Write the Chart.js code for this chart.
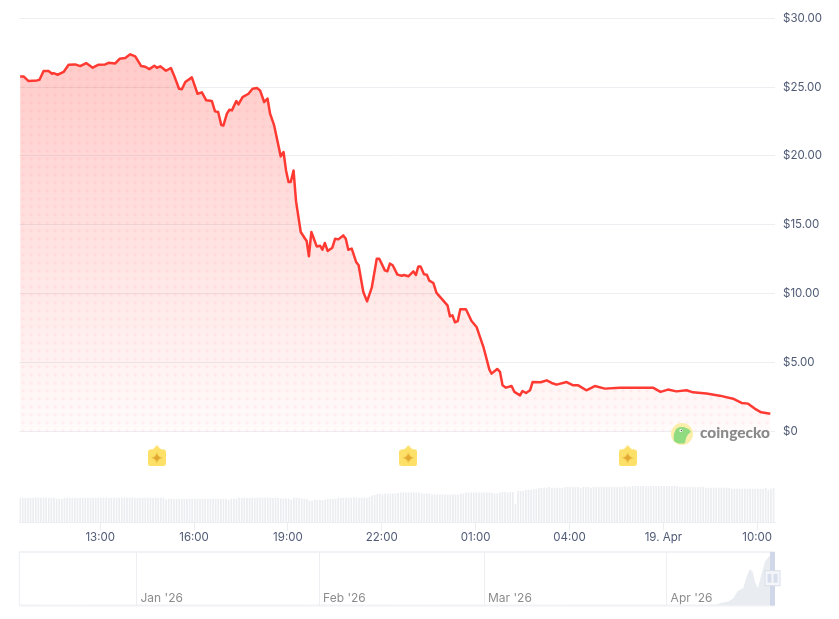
<!DOCTYPE html>
<html>
<head>
<meta charset="utf-8">
<title>Price chart</title>
<script src="https://cdn.jsdelivr.net/npm/chart.js@4"></script>
<style>
  html, body { margin: 0; padding: 0; background: #fff; }
  #wrap { position: relative; width: 839px; height: 619px; overflow: hidden; }
  canvas { position: absolute; left: 0; }
</style>
</head>
<body>
<div id="wrap">
  <canvas id="main" width="839" height="619" style="top:0"></canvas>
  <canvas id="nav" width="839" height="74" style="top:545px"></canvas>
</div>
<script>
// hours counted from 00:00 on 18 Apr
const priceHours = [
  10.44,10.55,10.71,10.98,11.06,11.19,11.35,11.46,11.51,11.64,11.83,11.99,12.20,12.36,12.55,12.76,12.95,13.16,13.27,13.48,
  13.62,13.80,13.96,14.12,14.31,14.44,14.57,14.73,14.81,14.92,15.10,15.26,15.36,15.52,15.61,15.72,15.93,16.11,16.25,16.39,
  16.57,16.67,16.77,16.87,16.94,17.05,17.13,17.21,17.35,17.42,17.55,17.74,17.87,18.01,18.11,18.24,18.35,18.43,18.56,18.77,
  18.86,18.94,19.02,19.09,19.18,19.26,19.41,19.55,19.60,19.67,19.75,19.92,20.03,20.10,20.18,20.27,20.42,20.51,20.61,20.77,
  20.85,20.93,21.04,21.18,21.26,21.41,21.53,21.68,21.84,21.92,22.10,22.18,22.26,22.35,22.50,22.64,22.71,22.85,23.01,23.09,
  23.17,23.24,23.35,23.44,23.52,23.65,23.75,24.10,24.18,24.26,24.34,24.43,24.51,24.69,24.87,25.03,25.25,25.44,25.51,25.69,
  25.78,25.86,25.97,26.15,26.24,26.42,26.50,26.61,26.74,26.82,27.08,27.27,27.43,27.59,27.91,28.12,28.28,28.54,28.81,29.13,
  29.61,30.04,30.67,30.91,31.15,31.42,31.74,31.95,32.38,32.80,33.23,33.50,33.71,33.92,34.13,34.42
];
const prices = [
  25.78,25.78,25.44,25.49,25.54,26.17,26.17,25.97,26.02,25.90,26.10,26.63,26.65,26.53,26.75,26.41,26.63,26.65,26.77,26.72,
  27.06,27.11,27.38,27.23,26.53,26.48,26.31,26.56,26.41,26.51,26.19,26.39,25.85,24.88,24.84,25.37,25.71,24.52,24.62,24.04,
  23.99,23.24,23.19,22.25,22.22,23.07,23.36,23.31,23.99,23.75,24.28,24.52,24.88,24.93,24.76,23.92,24.16,23.07,22.22,19.97,
  20.29,18.95,18.11,18.11,18.95,16.70,14.48,13.99,13.82,12.71,14.48,13.43,13.48,13.19,13.68,13.10,13.34,13.99,13.94,14.23,
  13.99,13.19,13.27,12.30,12.06,10.12,9.44,10.43,12.54,12.54,11.69,11.62,12.18,12.06,11.38,11.30,11.35,11.26,11.62,11.35,
  11.98,11.98,11.40,11.38,10.94,10.77,10.05,9.15,8.35,8.42,7.92,8.01,8.86,8.86,8.01,7.58,6.12,4.48,4.19,4.53,
  4.31,3.34,3.17,3.29,2.86,2.61,2.93,2.78,2.98,3.58,3.56,3.70,3.51,3.39,3.58,3.34,3.34,2.98,3.29,3.10,
  3.17,3.17,3.17,2.86,3.03,2.90,2.98,2.83,2.74,2.59,2.37,2.06,2.01,1.65,1.38,1.28
];

// one bar every 5 minutes
const volumeStartHour = 10.44;
const volumeStepHours = 1 / 12;
const volumes = [
  24.3,24.3,24.3,24.3,24.3,24.3,24.3,24.3,24.3,24.3,24.3,24.3,24.3,24.3,23.3,23.3,23.3,24.3,24.3,24.3,
  24.0,24.3,24.0,24.3,24.3,24.3,24.3,24.3,24.3,24.3,24.3,24.3,24.3,24.3,24.3,24.3,24.3,24.3,24.3,24.3,
  24.3,24.3,24.3,24.3,24.3,24.3,24.3,24.3,24.3,24.3,24.3,24.3,24.3,24.3,24.3,24.3,22.3,23.3,23.3,23.3,
  23.3,23.3,23.3,23.3,23.3,23.3,23.3,23.3,23.3,23.3,23.3,23.3,23.3,23.3,23.3,23.3,23.3,23.3,23.3,23.3,
  22.3,23.3,23.3,23.3,24.3,24.3,24.3,24.3,24.3,24.3,24.3,24.3,24.3,24.3,24.3,24.3,24.3,24.0,24.0,24.0,
  23.5,23.5,23.5,23.5,22.3,24.3,24.3,24.0,23.5,23.3,23.0,21.3,21.3,22.3,22.0,22.0,21.7,22.3,23.3,23.3,
  23.3,23.3,24.3,24.3,24.3,24.3,24.3,24.3,25.0,24.3,24.3,24.3,24.3,24.3,25.0,26.3,27.0,28.0,28.3,27.5,
  28.5,28.5,28.5,28.5,28.5,29.0,29.5,29.5,29.5,29.5,29.5,29.5,29.5,29.5,28.5,28.5,28.5,28.5,27.5,27.5,
  27.5,27.5,27.5,27.5,27.5,27.5,27.5,27.5,27.5,28.5,28.5,29.5,29.5,29.5,29.5,29.5,29.5,29.5,29.5,29.5,
  29.5,29.0,28.5,28.5,29.5,30.0,30.0,29.5,30.0,30.0,18.3,31.0,31.0,31.0,32.3,32.3,32.3,33.0,33.3,34.3,
  34.0,34.3,34.3,35.0,34.0,34.3,34.3,34.3,34.0,35.0,35.0,35.0,35.0,35.0,35.0,33.7,35.0,35.0,35.0,34.0,
  35.0,35.0,35.0,35.0,35.0,35.0,35.0,35.0,35.0,35.0,35.0,35.0,35.7,35.3,35.3,36.0,36.0,36.0,36.0,36.0,
  36.0,36.0,36.0,36.0,36.0,36.0,36.0,36.0,36.0,36.0,36.0,36.0,36.0,35.0,35.0,35.0,35.0,35.0,35.0,35.0,
  35.0,35.0,35.0,34.3,34.3,34.3,34.3,34.3,34.3,34.3,34.3,34.3,34.3,33.3,33.3,33.3,33.3,33.3,33.3,33.3,
  33.3,33.3,33.3,33.3,33.3,33.3,34.0,32.3,33.3,34.0
];

const hourTicks = [13, 16, 19, 22, 25, 28, 31, 34];
const hourLabels = ['13:00', '16:00', '19:00', '22:00', '01:00', '04:00', '19. Apr', '10:00'];
const priceTicks = [0, 5, 10, 15, 20, 25, 30];
const eventHours = [14.81, 22.85, 29.86];
const eventLevel = -1.78;

// overview strip: days counted from 1 Jan 2026
const monthDays = [0, 31, 59, 90];
const monthLabels = ["Jan '26", "Feb '26", "Mar '26", "Apr '26"];
const overviewDays = [-19.9, 0, 20, 40, 60, 75, 90, 95, 98.5, 99.3, 100.4, 101.3, 102.1, 103, 103.6, 104.1, 104.6, 105, 105.5, 106, 106.7, 107.4, 107.6, 108.4];
const overviewPrices = [0.2, 0.3, 0.3, 0.2, 0.3, 0.2, 0.2, 0.3, 0.4, 1.6, 2.2, 4.3, 9, 10.4, 17.5, 22, 20.6, 14.5, 10.4, 17.5, 26.7, 29.8, 30.2, 27];
const selectedDays = [107.55, 108.4];

const axisFont = { family: 'Inter', size: 11.5 };
const axisColor = '#4f5a75';
const gridColor = '#eceef2';

function eventPin() {
  const c = document.createElement('canvas');
  c.width = 18; c.height = 21;
  const g = c.getContext('2d');
  g.fillStyle = '#fde068';
  g.beginPath();
  g.moveTo(9, 0); g.lineTo(13, 4); g.lineTo(15, 4);
  g.quadraticCurveTo(18, 4, 18, 7); g.lineTo(18, 18);
  g.quadraticCurveTo(18, 21, 15, 21); g.lineTo(3, 21);
  g.quadraticCurveTo(0, 21, 0, 18); g.lineTo(0, 7);
  g.quadraticCurveTo(0, 4, 3, 4); g.lineTo(5, 4);
  g.closePath(); g.fill();
  g.fillStyle = '#e2a72f';
  g.beginPath();
  g.moveTo(9, 7); g.quadraticCurveTo(9.6, 12, 15, 12.5);
  g.quadraticCurveTo(9.6, 13, 9, 18); g.quadraticCurveTo(8.4, 13, 3, 12.5);
  g.quadraticCurveTo(8.4, 12, 9, 7);
  g.fill();
  return c;
}

function dotPattern(ctx) {
  const c = document.createElement('canvas');
  c.width = 8; c.height = 8;
  const g = c.getContext('2d');
  g.fillStyle = 'rgba(255,58,51,0.05)';
  [[7, 6.7], [-1, 6.7], [7, -1.3], [-1, -1.3]].forEach(p => {
    g.beginPath(); g.arc(p[0], p[1], 1.8, 0, Math.PI * 2); g.fill();
  });
  return ctx.createPattern(c, 'repeat');
}

const logoPlugin = {
  id: 'logo',
  afterDraw(chart) {
    const g = chart.ctx;
    g.save();
    g.fillStyle = '#fbeeaa';
    g.beginPath(); g.arc(682, 434, 11, 0, Math.PI * 2); g.fill();
    g.fillStyle = '#90da7f';
    g.beginPath();
    g.moveTo(674, 441);
    g.bezierCurveTo(673, 434, 675, 427, 681, 427);
    g.bezierCurveTo(685, 427, 690, 429, 691, 432);
    g.bezierCurveTo(688, 434, 686, 436, 685, 443);
    g.bezierCurveTo(682, 444, 677, 444, 674, 441);
    g.fill();
    g.fillStyle = '#fff';
    g.beginPath(); g.arc(681, 430.5, 1.6, 0, Math.PI * 2); g.fill();
    g.fillStyle = '#555';
    g.beginPath(); g.arc(681.4, 430.5, 0.8, 0, Math.PI * 2); g.fill();
    g.fillStyle = '#8a8a8a';
    g.font = '900 15.5px Lato';
    g.textBaseline = 'middle';
    g.fillText('coingecko', 700, 433);
    g.restore();
  }
};

new Chart(document.getElementById('main'), {
  type: 'bar',
  plugins: [logoPlugin],
  data: {
    datasets: [
      {
        type: 'line', order: 1, yAxisID: 'y',
        data: eventHours.map(h => ({ x: h, y: eventLevel })),
        showLine: false, pointStyle: eventPin(), pointRadius: 10
      },
      {
        type: 'line', order: 2, yAxisID: 'y',
        data: priceHours.map((h, i) => ({ x: h, y: prices[i] })),
        borderColor: '#ff3a33', borderWidth: 2.5, pointRadius: 0, tension: 0,
        borderJoinStyle: 'round',
        fill: 'origin',
        backgroundColor(context) {
          const { chart } = context;
          if (!chart.chartArea) return 'transparent';
          const y = chart.scales.y;
          const grad = chart.ctx.createLinearGradient(0, y.getPixelForValue(30), 0, y.getPixelForValue(0));
          grad.addColorStop(0, 'rgba(255,58,51,0.29)');
          grad.addColorStop(1, 'rgba(255,58,51,0.02)');
          return grad;
        }
      },
      {
        type: 'line', order: 3, yAxisID: 'y',
        data: priceHours.map((h, i) => ({ x: h, y: prices[i] })),
        borderWidth: 0, pointRadius: 0, fill: 'origin',
        backgroundColor: dotPattern(document.getElementById('main').getContext('2d'))
      },
      {
        type: 'bar', order: 4, yAxisID: 'vol',
        data: volumes.map((v, i) => ({ x: volumeStartHour + i * volumeStepHours, y: v })),
        backgroundColor: '#ebedf1', barThickness: 1
      }
    ]
  },
  options: {
    responsive: false,
    animation: false,
    layout: { padding: { left: 19.5, top: 18.3, right: 0, bottom: 0 } },
    plugins: { legend: { display: false }, tooltip: { enabled: false } },
    scales: {
      x: {
        type: 'linear', min: 10.42, max: 34.57, offset: false,
        afterBuildTicks(s) { s.ticks = hourTicks.map(value => ({ value })); },
        afterFit(s) { s.height = 96.7; },
        grid: { drawOnChartArea: false, color: gridColor, tickLength: 8, offset: false },
        border: { color: gridColor },
        ticks: {
          autoSkip: false, maxRotation: 0, padding: 0, font: axisFont, color: axisColor,
          callback: v => hourLabels[hourTicks.indexOf(v)]
        }
      },
      y: {
        position: 'right', min: -6.61, max: 30,
        afterBuildTicks(s) { s.ticks = priceTicks.map(value => ({ value })); },
        afterFit(s) { s.width = 64; },
        grid: { color: gridColor, drawTicks: false },
        border: { display: false },
        ticks: {
          padding: 8, font: axisFont, color: axisColor,
          callback: v => v === 0 ? '$0' : '$' + v.toFixed(2)
        }
      },
      vol: { display: false, min: 0, max: 504 }
    }
  }
});

const overviewPlugin = {
  id: 'overview',
  beforeDraw(chart) {
    const a = chart.chartArea, g = chart.ctx;
    g.save();
    g.fillStyle = '#f1f2f5';
    g.fillRect(a.left, a.top - 1, a.right - a.left, 2);
    g.fillRect(a.left, a.bottom - 1, a.right - a.left, 2);
    g.fillStyle = gridColor;
    g.fillRect(a.left - 0.5, a.top, 1, a.bottom - a.top);
    g.restore();
  },
  afterDraw(chart) {
    const a = chart.chartArea, g = chart.ctx, x = chart.scales.x;
    g.save();
    g.font = '12px Inter';
    g.fillStyle = '#8c8c8c';
    g.textBaseline = 'middle';
    monthDays.forEach((d, i) => g.fillText(monthLabels[i], x.getPixelForValue(d) + 4, a.bottom - 7.5));
    const x0 = x.getPixelForValue(selectedDays[0]), x1 = x.getPixelForValue(selectedDays[1]);
    const mid = (x0 + x1) / 2;
    const cy = (a.top + a.bottom) / 2;
    g.fillStyle = '#cfd7e8';
    g.fillRect(x0, a.top, x1 - x0, a.bottom - a.top);
    g.fillStyle = '#f5f6f9';
    g.strokeStyle = '#d8deeb';
    g.lineWidth = 1;
    g.fillRect(mid - 7.5, cy - 0.5 - 7.5, 15, 15);
    g.strokeRect(mid - 7.5, cy - 0.5 - 7.5, 15, 15);
    g.fillStyle = '#d8deeb';
    g.fillRect(mid - 5, cy - 5, 4, 9);
    g.fillRect(mid + 1, cy - 5, 4, 9);
    g.restore();
  }
};

new Chart(document.getElementById('nav'), {
  type: 'line',
  plugins: [overviewPlugin],
  data: {
    datasets: [{
      data: overviewDays.map((d, i) => ({ x: d, y: overviewPrices[i] })),
      borderWidth: 0, pointRadius: 0, fill: 'origin', backgroundColor: '#e9edf1'
    }]
  },
  options: {
    responsive: false,
    animation: false,
    layout: { padding: { left: 19.3, top: 7, right: 64, bottom: 13.5 } },
    plugins: { legend: { display: false }, tooltip: { enabled: false } },
    scales: {
      x: {
        type: 'linear', min: -19.9, max: 108.4,
        afterBuildTicks(s) { s.ticks = monthDays.map(value => ({ value })); },
        afterFit(s) { s.height = 0; },
        grid: { color: gridColor, drawTicks: false },
        border: { display: false },
        ticks: { display: false }
      },
      y: { display: false, min: 0, max: 32.4 }
    }
  }
});
</script>
</body>
</html>
